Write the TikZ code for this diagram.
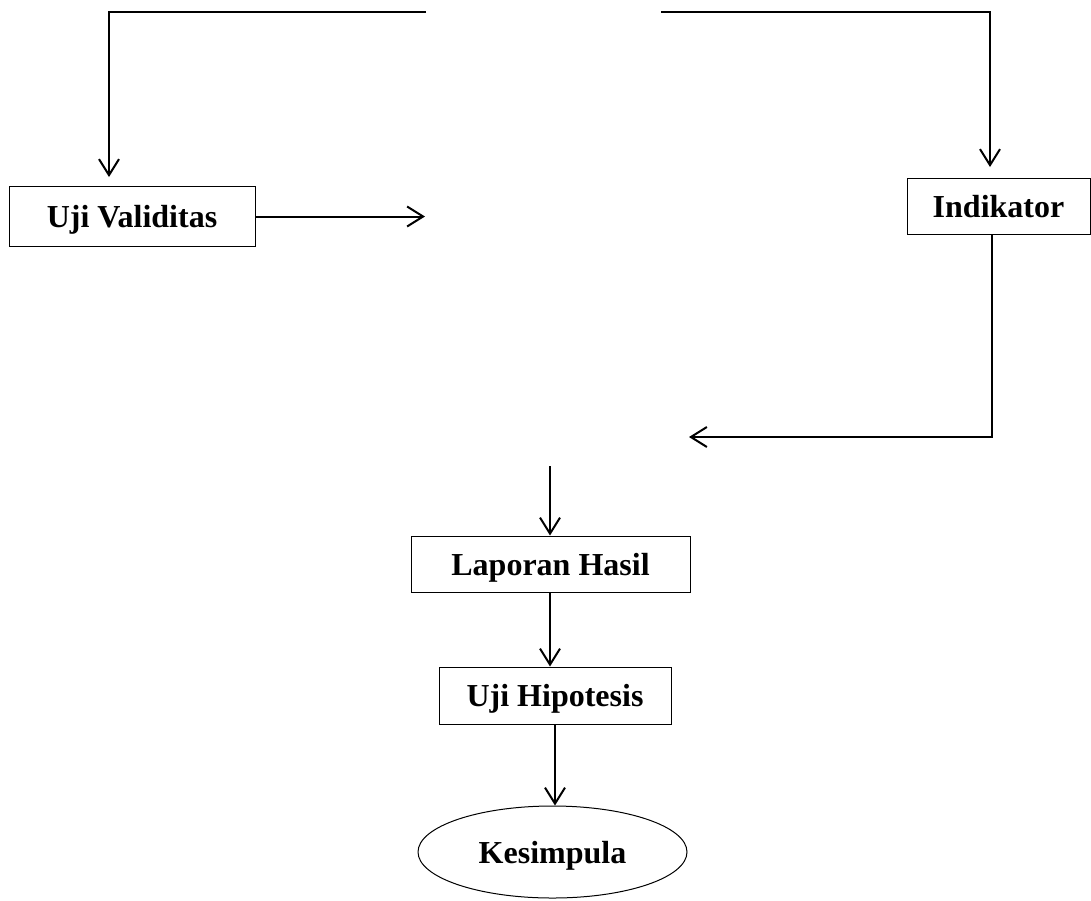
\documentclass[tikz,border=0pt]{standalone}
\usepackage{fontspec}
\setmainfont{Liberation Serif}
\usetikzlibrary{arrows.meta,shapes.geometric}
\begin{document}
\begin{tikzpicture}[x=1pt,y=-1pt,
  conn/.style={line width=2pt,-{Straight Barb[length=16pt,width=20pt,line width=2pt]}},
  boxnode/.style={draw,line width=1pt,inner sep=0pt,text height=22pt,text depth=0pt,font=\fontsize{32}{38}\selectfont\bfseries},
  ovalnode/.style={draw,ellipse,line width=1pt,inner sep=0pt,text height=22pt,text depth=0pt,font=\fontsize{32}{38}\selectfont\bfseries}]
\useasboundingbox (0,0) rectangle (1091,900);
\node[boxnode,minimum width=246pt,minimum height=60pt] (uv) at (132,216.5) {Uji Validitas};
\node[boxnode,minimum width=183pt,minimum height=56pt] (ind) at (998.5,206) {Indikator};
\node[boxnode,minimum width=279pt,minimum height=56pt] (lh) at (550.5,564) {Laporan Hasil};
\node[boxnode,minimum width=232pt,minimum height=57pt] (uh) at (555,695.5) {Uji Hipotesis};
\node[ovalnode,minimum width=269pt,minimum height=92pt] (kes) at (552.5,852) {Kesimpula};
\coordinate (tl0) at (426,12);
\coordinate (tl1) at (109,12);
\coordinate (tl2) at (109,177);
\coordinate (tr0) at (661,12);
\coordinate (tr1) at (990,12);
\coordinate (tr2) at (990,167);
\coordinate (uvend) at (425,216.5);
\coordinate (ic) at (992,437);
\coordinate (iend) at (689,437);
\coordinate (lhstart) at (550,466);
\draw[conn] (tl0) -- (tl1) -- (tl2);
\draw[conn] (tr0) -- (tr1) -- (tr2);
\draw[conn] (uv.east) -- (uvend);
\draw[conn] (ic |- ind.south) -- (ic) -- (iend);
\draw[conn] (lhstart) -- (lhstart |- lh.north);
\draw[conn] (lhstart |- lh.south) -- (lhstart |- uh.north);
\draw[conn] (uh.south) -- (uh.south |- kes.north);
\end{tikzpicture}
\end{document}
